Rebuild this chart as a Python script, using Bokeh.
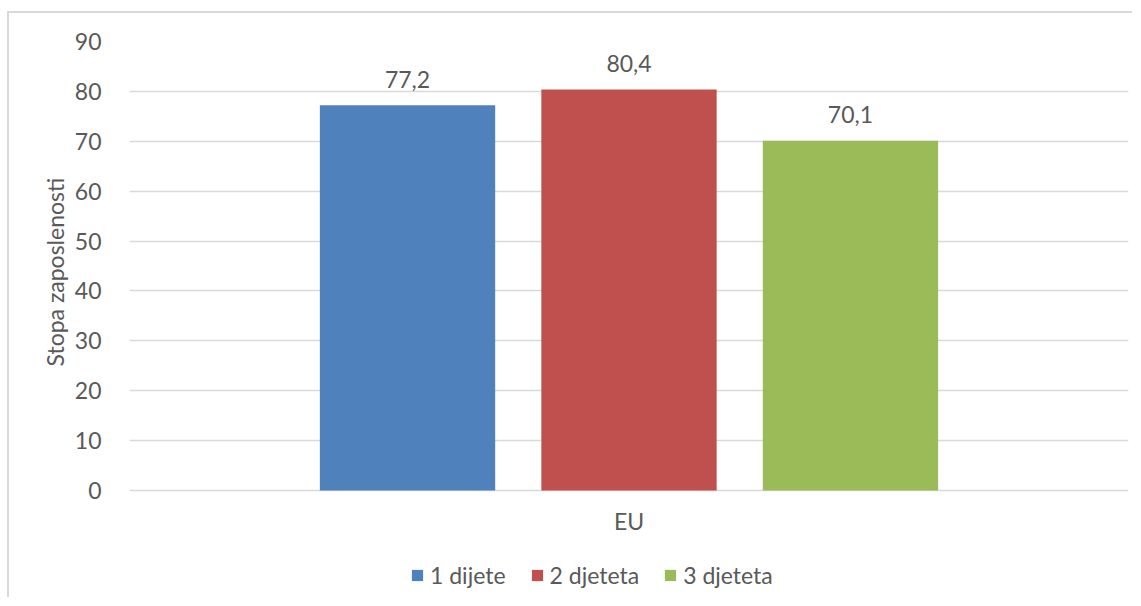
from bokeh.plotting import figure
from bokeh.models import ColumnDataSource, FactorRange, Range1d, Legend, LegendItem, Title
from bokeh.transform import dodge
from bokeh.core.properties import value
from bokeh.embed import file_html
from bokeh.resources import INLINE

categories = ["EU"]
series = ["1 dijete", "2 djeteta", "3 djeteta"]
values = [77.2, 80.4, 70.1]
colors = ["#4f81bd", "#c0504d", "#9bbb59"]
y_ticks = [0, 10, 20, 30, 40, 50, 60, 70, 80, 90]
y_title = "Stopa zaposlenosti"

FONT = "Lato"
TXT = "#595959"
GRID = "#d9d9d9"

p = figure(
    width=1125, height=586,
    x_range=FactorRange(factors=categories),
    y_range=Range1d(-21.05, 90),
    x_axis_location=None,
    output_backend="svg", toolbar_location=None,
    min_border_left=120, min_border_right=6, min_border_top=28, min_border_bottom=4,
    margin=(11, 0, 0, 7),
    styles={"border-left": "2px solid #d9d9d9", "border-top": "2px solid #d9d9d9"},
)
p.outline_line_color = None
p.background_fill_color = "white"
p.border_fill_color = "white"

offsets = [-0.2217, 0.0, 0.2217]
bar_w = 0.1755
items = []
for name, v, c, off in zip(series, values, colors, offsets):
    src = ColumnDataSource(dict(x=categories, y=[v], lab=[f"{v:.1f}".replace(".", ",")]))
    r = p.vbar(x=dodge("x", off, range=p.x_range), top="y", width=bar_w, source=src,
               fill_color=c, line_color=None)
    p.text(x=dodge("x", off, range=p.x_range), y="y", text="lab", source=src,
           text_align="center", text_baseline="alphabetic", y_offset=-26,
           text_font=value(FONT), text_font_size="23px", text_color=TXT)
    items.append(LegendItem(label=name, renderers=[r]))

# category label under the 0 line
p.text(x=categories, y=[0] * len(categories), text=categories,
       text_align="center", text_baseline="top", y_offset=17,
       text_font=value(FONT), text_font_size="23px", text_color=TXT)

p.xgrid.grid_line_color = None
p.ygrid.grid_line_color = GRID
p.ygrid.grid_line_width = 1.6
p.yaxis.ticker = y_ticks

ax = p.yaxis[0]
ax.axis_line_color = None
ax.major_tick_line_color = None
ax.minor_tick_line_color = None
ax.major_label_text_font = FONT
ax.major_label_text_font_size = "23px"
ax.major_label_text_color = TXT
ax.major_label_standoff = 22

p.add_layout(Title(text=y_title, align="left", offset=229, standoff=5,
                   text_font=FONT, text_font_size="23px", text_font_style="normal",
                   text_color=TXT), "left")

legend = Legend(items=items, orientation="horizontal", location=(281, 6),
                padding=0, margin=0, spacing=24, label_standoff=6,
                glyph_width=14, glyph_height=14,
                label_text_font=FONT, label_text_font_size="23px", label_text_color=TXT,
                border_line_color=None, background_fill_alpha=0)
p.add_layout(legend, "center")

open("out.html", "w").write(file_html(p, INLINE))
